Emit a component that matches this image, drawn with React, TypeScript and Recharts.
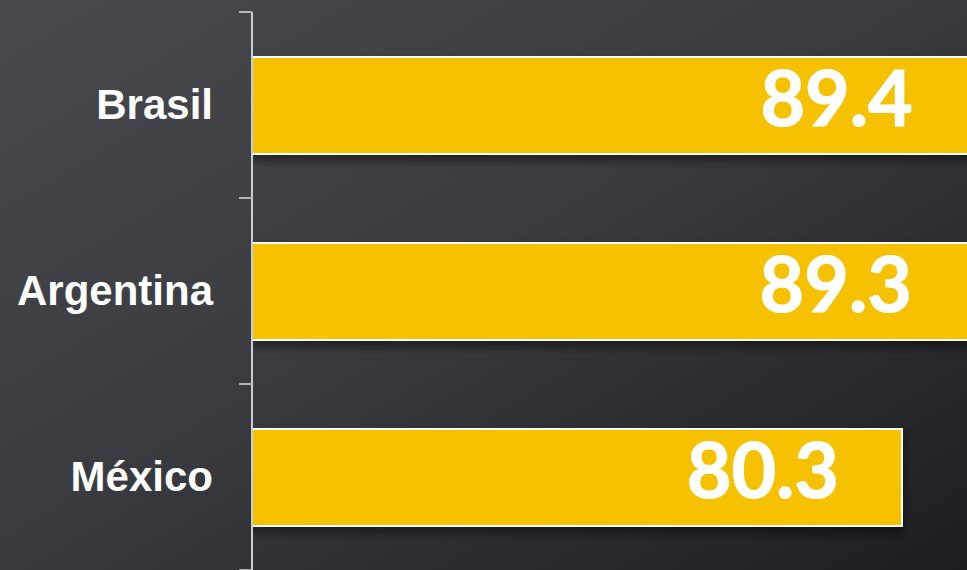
import React from 'react'
import { BarChart, Bar, XAxis, YAxis, LabelList } from 'recharts'

const countries = ['Brasil', 'Argentina', 'México']
const scores = [89.4, 89.3, 80.3]

const data = countries.map((name, i) => ({ name, value: scores[i] }))

const W = 967
const H = 570
const TOP = 12
const AXIS_W = 252
const BAND = (H - TOP) / countries.length

const CountryTick = (props: any) => {
  const { y, payload, index } = props
  const last = index === countries.length - 1
  return (
    <g>
      <line x1={AXIS_W - 13} x2={AXIS_W} y1={y - BAND / 2} y2={y - BAND / 2} stroke="#b0b4bb" strokeWidth={2} />
      {last && (
        <line x1={AXIS_W - 13} x2={AXIS_W} y1={y + BAND / 2} y2={y + BAND / 2} stroke="#b0b4bb" strokeWidth={2} />
      )}
      <text
        x={AXIS_W - 39}
        y={y + 14}
        textAnchor="end"
        fill="#ffffff"
        fontFamily="'Liberation Sans', Arial, sans-serif"
        fontWeight={700}
        fontSize={42}
      >
        {payload.value}
      </text>
    </g>
  )
}

const ValueLabel = (props: any) => {
  const { x, y, width, height, value } = props
  return (
    <text
      x={x + width - 63}
      y={y + height / 2 + 20}
      textAnchor="end"
      fill="#ffffff"
      stroke="#ffffff"
      strokeWidth={1.2}
      fontFamily="Lato, sans-serif"
      fontWeight={700}
      fontSize={77}
    >
      {value}
    </text>
  )
}

const BarShape = (props: any) => {
  const { x, y, width, height } = props
  return (
    <rect
      x={x}
      y={y}
      width={width}
      height={height}
      fill="#f5c102"
      stroke="#ffffff"
      strokeWidth={2}
      filter="url(#barShadow)"
    />
  )
}

export default function App() {
  return (
    <div
      style={{
        position: 'fixed',
        top: 0,
        left: 0,
        width: W,
        height: H,
        overflow: 'hidden',
        background: 'linear-gradient(to bottom right, #47494e 0%, #3a3c41 45%, #2a2b2f 75%, #1c1d20 100%)',
      }}
    >
      <BarChart width={W} height={H} data={data} layout="vertical" margin={{ top: TOP, right: 0, bottom: 0, left: 0 }}>
        <defs>
          <filter id="barShadow" x="-5%" y="-20%" width="110%" height="150%">
            <feDropShadow dx={0} dy={6} stdDeviation={5} floodColor="#000000" floodOpacity={0.45} />
          </filter>
        </defs>
        <XAxis type="number" hide domain={[0, 88.33]} allowDataOverflow />
        <YAxis
          type="category"
          dataKey="name"
          width={AXIS_W}
          axisLine={{ stroke: '#c9cdd4', strokeWidth: 2 }}
          tickLine={false}
          tick={<CountryTick />}
          interval={0}
        />
        <Bar dataKey="value" barSize={97} shape={<BarShape />} isAnimationActive={false}>
          <LabelList dataKey="value" content={<ValueLabel />} />
        </Bar>
      </BarChart>
    </div>
  )
}
